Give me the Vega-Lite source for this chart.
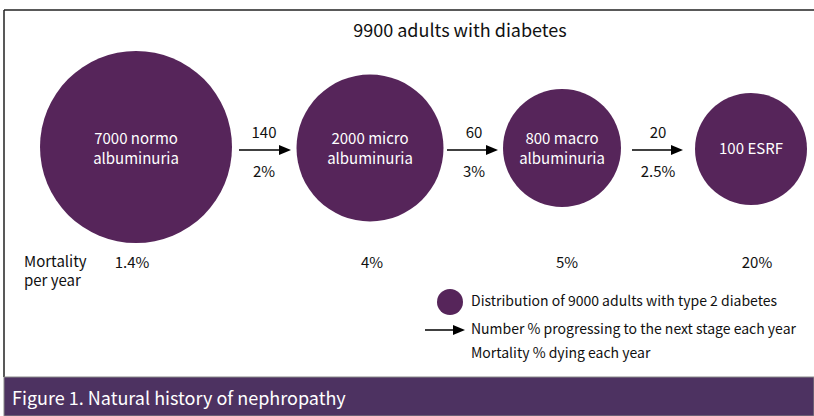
{
  "$schema": "https://vega.github.io/schema/vega-lite/v6.json",
  "width": 814,
  "height": 416,
  "autosize": {"type": "none"},
  "padding": 0,
  "background": "white",
  "config": {"view": {"stroke": null}, "text": {"font": "Noto Sans CJK SC, Liberation Sans Narrow, sans-serif"}},
  "datasets": {
    "frame": [
      {"part": "top", "x": 4, "x2": 814, "y": 10, "y2": 10},
      {"part": "left", "x": 4, "x2": 4, "y": 10, "y2": 377}
    ],
    "band": [{"x": 4, "x2": 814, "y": 377, "y2": 416, "cx": 12, "cy": 400, "caption": "Figure 1. Natural history of nephropathy"}],
    "stages": [
      {"stage": "normo", "n": 7000, "label": "7000 normo\nalbuminuria", "x": 136, "y": 147, "ly": 139},
      {"stage": "micro", "n": 2000, "label": "2000 micro\nalbuminuria", "x": 370, "y": 148, "ly": 139},
      {"stage": "macro", "n": 800, "label": "800 macro\nalbuminuria", "x": 562, "y": 148, "ly": 139},
      {"stage": "ESRF", "n": 100, "label": "100 ESRF", "x": 751, "y": 149, "ly": 149}
    ],
    "mortality": [
      {"x": 132, "y": 263, "rate": "1.4%"},
      {"x": 372, "y": 263, "rate": "4%"},
      {"x": 567, "y": 263, "rate": "5%"},
      {"x": 757, "y": 263, "rate": "20%"}
    ],
    "arrows": [
      {"x": 239, "x2": 291, "y": 150, "lx": 264, "n": "140", "pct": "2%"},
      {"x": 447, "x2": 498, "y": 150, "lx": 474, "n": "60", "pct": "3%"},
      {"x": 632, "x2": 683, "y": 150, "lx": 658, "n": "20", "pct": "2.5%"},
      {"x": 425, "x2": 465, "y": 330, "lx": null, "n": null, "pct": null}
    ],
    "texts": [
      {"x": 460, "y": 32, "text": "9900 adults with diabetes", "kind": "title"},
      {"x": 24, "y": 262, "text": "Mortality", "kind": "side"},
      {"x": 24, "y": 281, "text": "per year", "kind": "side"},
      {"x": 471, "y": 302, "text": "Distribution of 9000 adults with type 2 diabetes", "kind": "legend"},
      {"x": 471, "y": 330, "text": "Number % progressing to the next stage each year", "kind": "legend"},
      {"x": 471, "y": 354, "text": "Mortality % dying each year", "kind": "legend"}
    ],
    "legendDot": [{"x": 450, "y": 302}]
  },
  "layer": [
    {
      "data": {"name": "frame"},
      "mark": {"type": "rule", "stroke": "#222222", "strokeWidth": 1.5},
      "encoding": {
        "x": {"field": "x", "type": "quantitative", "scale": {"domain": [0, 814], "nice": false, "zero": false}, "axis": null},
        "x2": {"field": "x2"},
        "y": {"field": "y", "type": "quantitative", "scale": {"domain": [0, 416], "nice": false, "zero": false, "reverse": true}, "axis": null},
        "y2": {"field": "y2"}
      }
    },
    {
      "data": {"name": "band"},
      "mark": {"type": "rect", "fill": "#4D3261", "stroke": "#8a8a8a", "strokeWidth": 1},
      "encoding": {
        "x": {"field": "x", "type": "quantitative"},
        "x2": {"field": "x2"},
        "y": {"field": "y", "type": "quantitative"},
        "y2": {"field": "y2"}
      }
    },
    {
      "data": {"name": "band"},
      "mark": {"type": "text", "align": "left", "baseline": "middle", "fontSize": 18, "color": "white"},
      "encoding": {
        "x": {"field": "cx", "type": "quantitative"},
        "y": {"field": "cy", "type": "quantitative"},
        "text": {"field": "caption"}
      }
    },
    {
      "data": {"name": "stages"},
      "mark": {"type": "point", "shape": "circle", "filled": true, "opacity": 1, "color": "#56255A"},
      "encoding": {
        "x": {"field": "x", "type": "quantitative"},
        "y": {"field": "y", "type": "quantitative"},
        "size": {"field": "stage", "type": "nominal", "legend": null,
          "scale": {"type": "ordinal", "domain": ["normo", "micro", "macro", "ESRF"], "range": [36864, 21609, 13924, 12544]}}
      }
    },
    {
      "data": {"name": "stages"},
      "mark": {"type": "text", "align": "center", "baseline": "middle", "fontSize": 15, "lineHeight": 20, "lineBreak": "\n", "color": "white"},
      "encoding": {
        "x": {"field": "x", "type": "quantitative"},
        "y": {"field": "ly", "type": "quantitative"},
        "text": {"field": "label"}
      }
    },
    {
      "data": {"name": "legendDot"},
      "mark": {"type": "point", "shape": "circle", "filled": true, "opacity": 1, "color": "#56255A", "size": 676},
      "encoding": {
        "x": {"field": "x", "type": "quantitative"},
        "y": {"field": "y", "type": "quantitative"}
      }
    },
    {
      "data": {"name": "arrows"},
      "mark": {"type": "rule", "stroke": "black", "strokeWidth": 1.6, "x2Offset": -6},
      "encoding": {
        "x": {"field": "x", "type": "quantitative"},
        "x2": {"field": "x2"},
        "y": {"field": "y", "type": "quantitative"}
      }
    },
    {
      "data": {"name": "arrows"},
      "mark": {"type": "point", "shape": "M-1,-0.85L1,0L-1,0.85Z", "filled": true, "opacity": 1, "color": "black", "size": 144, "xOffset": -6},
      "encoding": {
        "x": {"field": "x2", "type": "quantitative"},
        "y": {"field": "y", "type": "quantitative"}
      }
    },
    {
      "data": {"name": "arrows"},
      "transform": [{"filter": "datum.n != null"}],
      "mark": {"type": "text", "align": "center", "baseline": "middle", "fontSize": 15, "color": "#111111", "dy": -17},
      "encoding": {
        "x": {"field": "lx", "type": "quantitative"},
        "y": {"field": "y", "type": "quantitative"},
        "text": {"field": "n"}
      }
    },
    {
      "data": {"name": "arrows"},
      "transform": [{"filter": "datum.pct != null"}],
      "mark": {"type": "text", "align": "center", "baseline": "middle", "fontSize": 15, "color": "#111111", "dy": 22},
      "encoding": {
        "x": {"field": "lx", "type": "quantitative"},
        "y": {"field": "y", "type": "quantitative"},
        "text": {"field": "pct"}
      }
    },
    {
      "data": {"name": "mortality"},
      "mark": {"type": "text", "align": "center", "baseline": "middle", "fontSize": 15, "color": "#111111"},
      "encoding": {
        "x": {"field": "x", "type": "quantitative"},
        "y": {"field": "y", "type": "quantitative"},
        "text": {"field": "rate"}
      }
    },
    {
      "data": {"name": "texts"},
      "transform": [{"filter": "datum.kind == 'title'"}],
      "mark": {"type": "text", "align": "center", "baseline": "middle", "fontSize": 18, "color": "#111111"},
      "encoding": {
        "x": {"field": "x", "type": "quantitative"},
        "y": {"field": "y", "type": "quantitative"},
        "text": {"field": "text"}
      }
    },
    {
      "data": {"name": "texts"},
      "transform": [{"filter": "datum.kind == 'side'"}],
      "mark": {"type": "text", "align": "left", "baseline": "middle", "fontSize": 15, "color": "#111111"},
      "encoding": {
        "x": {"field": "x", "type": "quantitative"},
        "y": {"field": "y", "type": "quantitative"},
        "text": {"field": "text"}
      }
    },
    {
      "data": {"name": "texts"},
      "transform": [{"filter": "datum.kind == 'legend'"}],
      "mark": {"type": "text", "align": "left", "baseline": "middle", "fontSize": 14, "color": "#111111"},
      "encoding": {
        "x": {"field": "x", "type": "quantitative"},
        "y": {"field": "y", "type": "quantitative"},
        "text": {"field": "text"}
      }
    }
  ]
}
